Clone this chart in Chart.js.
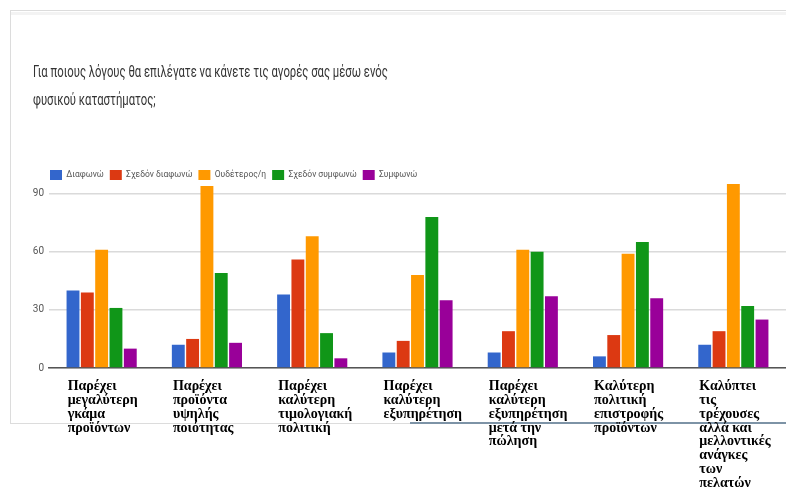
<!DOCTYPE html>
<html>
<head>
<meta charset="utf-8">
<script src="https://cdn.jsdelivr.net/npm/chart.js@4.4.1/dist/chart.umd.min.js"></script>
<style>
  html, body { margin: 0; padding: 0; background: #fff; }
  #wrap { position: relative; width: 786px; height: 493px; overflow: hidden; }
  .ln { position: absolute; z-index: 0; }
  #title { position: absolute; left: 33px; top: 58px; z-index: 2;
    font-family: Roboto, "Noto Sans", sans-serif; font-size: 16px; line-height: 28px;
    color: #333; white-space: nowrap; transform: scaleX(0.705); transform-origin: 0 0; }
  canvas { position: absolute; left: 0; top: 0; z-index: 1; }
</style>
</head>
<body>
<div id="wrap">
  <div class="ln" style="left:10px;top:10px;width:776px;height:1px;background:#dcdcdc"></div>
  <div class="ln" style="left:11px;top:12px;width:775px;height:3px;background:#f3f3f3"></div>
  <div class="ln" style="left:10px;top:10px;width:1px;height:414px;background:#dcdcdc"></div>
  <div class="ln" style="left:10px;top:423px;width:400px;height:1px;background:#dcdcdc"></div>
  <div class="ln" style="left:410px;top:422px;width:376px;height:2px;background:#7d93a6"></div>
  <div id="title">Για ποιους λόγους θα επιλέγατε να κάνετε τις αγορές σας μέσω ενός<br>φυσικού καταστήματος;</div>
  <canvas id="c" width="786" height="493"></canvas>
</div>
<script>
const categories = [
  ["Παρέχει", "μεγαλύτερη", "γκάμα", "προϊόντων"],
  ["Παρέχει", "προϊόντα", "υψηλής", "ποιότητας"],
  ["Παρέχει", "καλύτερη", "τιμολογιακή", "πολιτική"],
  ["Παρέχει", "καλύτερη", "εξυπηρέτηση"],
  ["Παρέχει", "καλύτερη", "εξυπηρέτηση", "μετά την", "πώληση"],
  ["Καλύτερη", "πολιτική", "επιστροφής", "προϊόντων"],
  ["Καλύπτει", "τις", "τρέχουσες", "αλλά και", "μελλοντικές", "ανάγκες", "των", "πελατών"]
];
const seriesNames = ["Διαφωνώ", "Σχεδόν διαφωνώ", "Ουδέτερος/η", "Σχεδόν συμφωνώ", "Συμφωνώ"];
const diafono        = [40, 12, 38, 8, 8, 6, 12];
const sxedonDiafono  = [39, 15, 56, 14, 19, 17, 19];
const oudeteros      = [61, 94, 68, 48, 61, 59, 95];
const sxedonSymfono  = [31, 49, 18, 78, 60, 65, 32];
const symfono        = [10, 13, 5, 35, 37, 36, 25];
const yTicks = [0, 30, 60, 90];
const colors = ["#3366cc", "#dc3912", "#ff9900", "#109618", "#990099"];

const seriesData = [diafono, sxedonDiafono, oudeteros, sxedonSymfono, symfono];

const legendShift = {
  id: 'legendShift',
  afterLayout(chart) {
    const lg = chart.legend;
    if (!lg) return;
    lg.left += 15; lg.right += 15;
    lg.top += 8; lg.bottom += 8;
  }
};

new Chart(document.getElementById('c'), {
  type: 'bar',
  data: {
    labels: categories,
    datasets: seriesNames.map((n, i) => ({
      label: n,
      data: seriesData[i],
      backgroundColor: colors[i],
      borderWidth: 0,
      categoryPercentage: 0.68,
      barPercentage: 0.9
    }))
  },
  plugins: [legendShift],
  options: {
    responsive: false,
    animation: false,
    devicePixelRatio: 1,
    layout: { padding: { left: 29, right: 0, top: 156, bottom: 0 } },
    plugins: {
      title: { display: false },
      tooltip: { enabled: false },
      legend: {
        position: 'top',
        align: 'start',
        labels: {
          boxWidth: 12, boxHeight: 10, padding: 6,
          color: '#555',
          font: { family: 'Roboto', size: 8.5 }
        }
      }
    },
    scales: {
      x: {
        grid: { display: false, drawTicks: false },
        border: { display: true, color: '#555', width: 1.5 },
        ticks: {
          autoSkip: false, maxRotation: 0, minRotation: 0,
          align: 'start', labelOffset: -34, padding: 12,
          color: '#000',
          font: { family: '"Liberation Serif", "Times New Roman", serif', size: 14, weight: 'bold', lineHeight: 0.98 }
        },
        afterFit: (s) => { s.height = 125; s.paddingLeft = 0; s.paddingRight = 0; }
      },
      y: {
        min: 0, max: 96,
        grid: { color: '#dadada', lineWidth: 1.5, drawTicks: false },
        border: { display: false },
        ticks: {
          stepSize: 30, padding: 5, color: '#555',
          font: { family: 'Roboto', size: 10 }
        },
        afterBuildTicks: (s) => { s.ticks = yTicks.map(v => ({ value: v })); },
        afterFit: (s) => { s.width = 20; }
      }
    }
  }
});
</script>
</body>
</html>
